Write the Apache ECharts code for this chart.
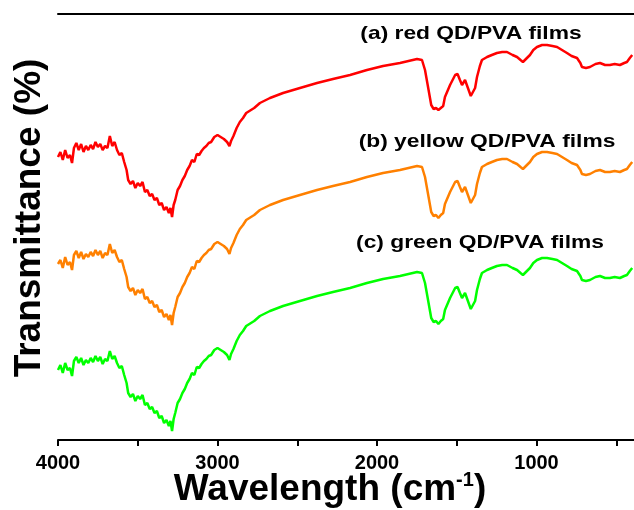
<!DOCTYPE html>
<html>
<head>
<meta charset="utf-8">
<style>
    html, body { margin: 0; padding: 0; background: #fff; }
    #chart { width: 634px; height: 510px; }
</style>
<script src="https://cdn.jsdelivr.net/npm/echarts@6/dist/echarts.min.js"></script>
</head>
<body>
<div id="chart"></div>
<script>
// wavenumbers (cm-1), shared by the three spectra
const wavenumbers = [4000, 3985, 3970, 3955, 3940, 3925, 3912, 3900, 3885, 3870, 3855, 3840, 3825, 3810, 3795, 3780, 3765, 3750, 3735, 3720,
    3705, 3690, 3675, 3660, 3645, 3630, 3615, 3600, 3585, 3570, 3560, 3545, 3530, 3515, 3500, 3485, 3470, 3455, 3440, 3425,
    3410, 3395, 3380, 3365, 3350, 3335, 3320, 3305, 3295, 3285, 3275, 3265, 3250, 3235, 3220, 3205, 3190, 3175, 3160, 3145,
    3130, 3115, 3100, 3085, 3070, 3055, 3040, 3020, 3000, 2980, 2960, 2940, 2925, 2915, 2900, 2880, 2860, 2840, 2820, 2800,
    2770, 2734, 2671, 2589, 2483, 2376, 2276, 2169, 2063, 1962, 1856, 1749, 1718, 1699, 1680, 1660, 1645, 1630, 1615, 1600,
    1585, 1574, 1542, 1510, 1495, 1480, 1467, 1448, 1430, 1412, 1400, 1385, 1373, 1355, 1342, 1310, 1280, 1248, 1215, 1185,
    1150, 1122, 1100, 1085, 1060, 1041, 1020, 997, 965, 934, 900, 871, 840, 809, 780, 746, 725, 715, 690, 665,
    630, 602, 570, 540, 510, 477, 450, 433, 415, 400]

// (a) red QD/PVA films (offset transmittance, a.u.)
const redFilm = [283, 288, 280, 290, 282, 285, 277, 292, 297, 290, 296, 288, 294, 290, 295, 291, 298, 293, 296, 290,
    294, 292, 304, 294, 298, 290, 285, 287, 278, 270, 260, 256, 259, 252, 257, 254, 258, 248, 250, 244,
    246, 240, 242, 235, 237, 230, 233, 227, 232, 223, 235, 240, 250, 254, 260, 264, 270, 274, 280, 278,
    286, 285, 289, 292, 294, 297, 298, 303, 305, 303, 301, 298, 294, 299, 304, 312, 318, 322, 327, 329,
    332, 337, 342, 347, 352, 357, 361, 365, 370, 374, 377, 381, 380, 370, 353, 335, 331, 332, 330, 332,
    334, 343, 355, 365, 366, 360, 355, 360, 352, 344, 342, 352, 363, 374, 380, 383, 385, 387, 388, 388,
    385, 383, 380, 378, 382, 385, 390, 393, 395, 395, 394, 393, 390, 387, 384, 382, 377, 373, 372, 373,
    376, 377, 375, 375, 376, 375, 377, 378, 382, 385]

// (b) yellow QD/PVA films
const yellowFilm = [176, 180, 172, 183, 175, 178, 170, 185, 189, 182, 188, 181, 186, 183, 188, 184, 190, 185, 189, 182,
    187, 185, 196, 187, 190, 183, 178, 180, 171, 163, 153, 149, 152, 145, 150, 147, 151, 141, 143, 137,
    139, 133, 135, 128, 130, 123, 126, 120, 125, 115, 127, 133, 143, 147, 153, 157, 163, 167, 173, 171,
    179, 178, 182, 185, 187, 190, 191, 196, 198, 196, 194, 191, 186, 192, 197, 205, 211, 215, 220, 222,
    225, 230, 235, 240, 245, 250, 254, 258, 263, 267, 270, 274, 273, 263, 246, 228, 224, 225, 222, 225,
    227, 236, 248, 258, 259, 253, 248, 253, 245, 237, 235, 245, 256, 267, 273, 276, 278, 280, 281, 281,
    278, 276, 273, 271, 275, 278, 283, 286, 288, 288, 287, 286, 283, 280, 277, 275, 270, 266, 265, 266,
    269, 270, 268, 268, 269, 268, 270, 271, 275, 278]

// (c) green QD/PVA films
const greenFilm = [70, 75, 67, 77, 70, 72, 64, 79, 83, 77, 82, 75, 80, 77, 82, 78, 84, 79, 83, 76,
    81, 79, 89, 81, 84, 77, 72, 74, 65, 57, 47, 43, 46, 39, 44, 41, 45, 35, 37, 31,
    33, 27, 29, 22, 24, 17, 20, 14, 19, 9, 21, 27, 37, 41, 47, 51, 57, 61, 67, 65,
    73, 72, 76, 79, 81, 84, 85, 90, 92, 90, 88, 85, 80, 86, 91, 99, 105, 109, 114, 116,
    119, 124, 129, 134, 139, 144, 148, 152, 157, 161, 164, 168, 167, 157, 140, 122, 118, 119, 116, 119,
    121, 130, 142, 152, 153, 147, 142, 147, 139, 131, 129, 139, 150, 161, 167, 170, 172, 174, 175, 175,
    172, 170, 167, 165, 169, 172, 177, 180, 182, 182, 181, 180, 177, 174, 171, 169, 164, 160, 159, 160,
    163, 164, 162, 162, 163, 162, 164, 165, 169, 172]

const seriesNames = ['(a) red QD/PVA films', '(b) yellow QD/PVA films', '(c) green QD/PVA films']
const seriesColors = ['#ff0000', '#ff8000', '#00ff00']

function toPairs(values) {
    return wavenumbers.map((w, i) => [w, values[i]])
}

(function () {
    const myChart = echarts.init(document.getElementById('chart'))
    const font = '"Liberation Sans", Arial, sans-serif'
    const option = {
        backgroundColor: '#fff',
        animation: false,
        grid: {
            left: 58,
            right: -62,   // axis runs to 0, but the figure is cut at ~400 cm-1
            top: 14,
            bottom: 70,
            outerBoundsMode: 'none'
        },
        xAxis: [
            {
                type: 'value',
                min: 0,
                max: 4000,
                interval: 1000,
                inverse: true,
                position: 'bottom',
                axisLine: {
                    lineStyle: { color: '#000', width: 2 }
                },
                axisTick: {
                    inside: false,
                    length: 6,
                    lineStyle: { color: '#000', width: 2 }
                },
                minorTick: {
                    show: true,
                    splitNumber: 2,
                    length: 6,
                    lineStyle: { color: '#000', width: 2 }
                },
                axisLabel: {
                    color: '#000',
                    fontSize: 20,
                    fontWeight: 'bold',
                    fontFamily: font,
                    margin: 13,
                    formatter: (v) => String(v)
                },
                splitLine: { show: false }
            },
            {
                type: 'value',
                min: 0,
                max: 4000,
                inverse: true,
                position: 'top',
                axisLine: {
                    lineStyle: { color: '#000', width: 2 }
                },
                axisTick: { show: false },
                axisLabel: { show: false },
                splitLine: { show: false }
            }
        ],
        yAxis: {
            type: 'value',
            min: 0,
            max: 426,
            axisLine: {
                show: true,
                lineStyle: { color: '#000', width: 2 }
            },
            axisTick: { show: false },
            axisLabel: { show: false },
            splitLine: { show: false }
        },
        series: [redFilm, yellowFilm, greenFilm].map((values, i) => ({
            name: seriesNames[i],
            type: 'line',
            showSymbol: false,
            lineStyle: { color: seriesColors[i], width: 2.5 },
            data: toPairs(values)
        })),
        graphic: [
            {
                type: 'text',
                x: 30,
                y: 218,
                rotation: Math.PI / 2,
                style: {
                    text: 'Transmittance (%)',
                    font: 'bold 37px ' + font,
                    fill: '#000',
                    align: 'center',
                    verticalAlign: 'middle'
                }
            },
            {
                type: 'text',
                x: 330,
                y: 490,
                style: {
                    text: '{a|Wavelength (cm}{b|-1}{a|)}',
                    fill: '#000',
                    align: 'center',
                    verticalAlign: 'middle',
                    rich: {
                        a: { font: 'bold 37px ' + font, fill: '#000', lineHeight: 40 },
                        b: { font: 'bold 20px ' + font, fill: '#000', lineHeight: 40, verticalAlign: 'top' }
                    }
                }
            },
            {
                type: 'text',
                x: 471,
                y: 34,
                scaleX: 1.2,
                style: {
                    text: seriesNames[0],
                    font: 'bold 19px ' + font,
                    fill: '#000',
                    align: 'center',
                    verticalAlign: 'middle'
                }
            },
            {
                type: 'text',
                x: 487,
                y: 142,
                scaleX: 1.2,
                style: {
                    text: seriesNames[1],
                    font: 'bold 19px ' + font,
                    fill: '#000',
                    align: 'center',
                    verticalAlign: 'middle'
                }
            },
            {
                type: 'text',
                x: 480,
                y: 243,
                scaleX: 1.2,
                style: {
                    text: seriesNames[2],
                    font: 'bold 19px ' + font,
                    fill: '#000',
                    align: 'center',
                    verticalAlign: 'middle'
                }
            }
        ]
    }
    myChart.setOption(option)
    window.addEventListener('resize', () => {
        myChart.resize()
    })
})()
</script>
</body>
</html>
